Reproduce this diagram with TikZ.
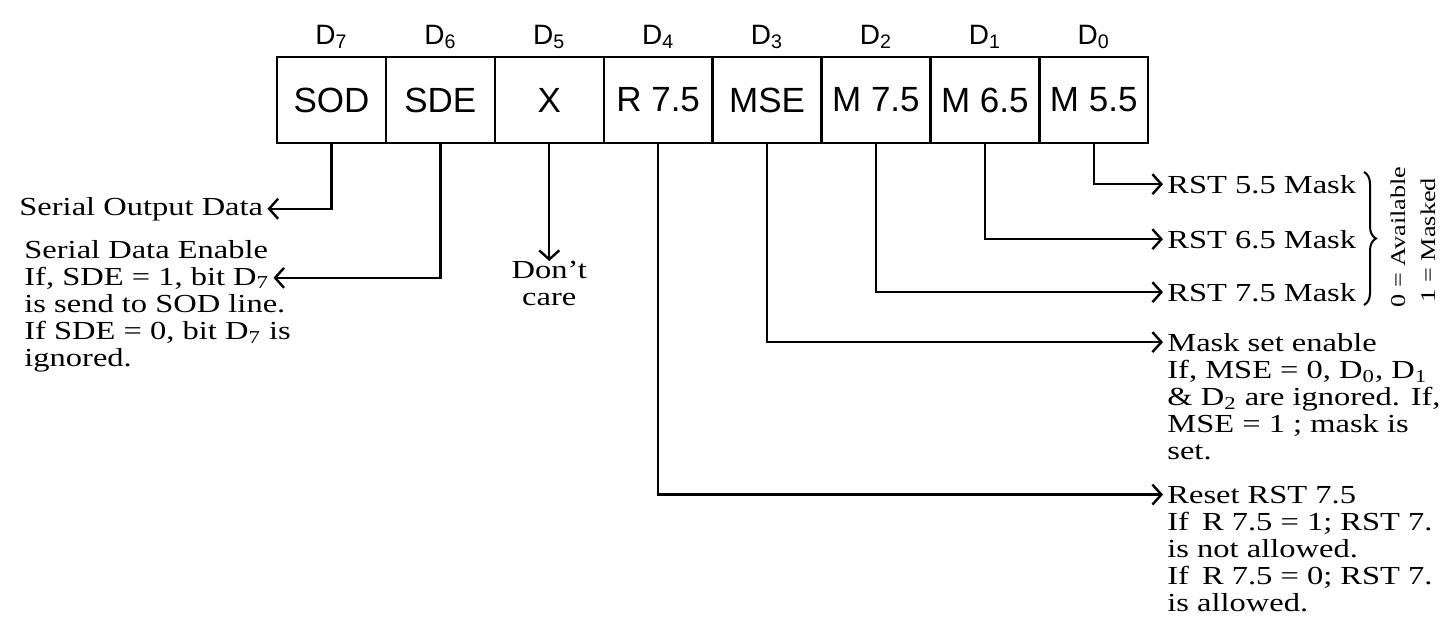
\documentclass[tikz,border=0pt]{standalone}
\usepackage{fontspec}
\setmainfont[FakeStretch=1.25]{Liberation Serif}
\setsansfont{Liberation Sans}
\usetikzlibrary{arrows.meta, positioning, decorations.pathreplacing}

\begin{document}
\begin{tikzpicture}[x=0.5pt, y=-0.5pt,
    cell/.style={draw, line width=1.2pt, minimum width=54.45pt, minimum height=43pt,
      inner sep=0pt, outer sep=0pt, font=\sffamily\fontsize{17.5}{17.5}\selectfont},
    bitlab/.style={inner sep=0pt, font=\sffamily\fontsize{14}{14}\selectfont},
    note/.style={inner xsep=2pt, inner ysep=0pt, align=left,
      font=\fontsize{13}{13.5}\selectfont},
    conn/.style={line width=1.2pt, -{Straight Barb[length=4.5pt,width=10pt]}}]
  \useasboundingbox (0,0) rectangle (1448,622);
  % Register cells
  \node[cell] (b7) at (331.45,100) {SOD};
  \node[cell, right=0pt of b7] (b6) {SDE};
  \node[cell, right=0pt of b6] (b5) {X};
  \node[cell, right=0pt of b5] (b4) {R 7.5};
  \node[cell, right=0pt of b4] (b3) {MSE};
  \node[cell, right=0pt of b3] (b2) {M 7.5};
  \node[cell, right=0pt of b2] (b1) {M 6.5};
  \node[cell, right=0pt of b1] (b0) {M 5.5};
  % Bit numbers
  \node[bitlab, above=4pt of b7] (d7) {D\textsubscript{7}};
  \node[bitlab, above=4pt of b6] (d6) {D\textsubscript{6}};
  \node[bitlab, above=4pt of b5] (d5) {D\textsubscript{5}};
  \node[bitlab, above=4pt of b4] (d4) {D\textsubscript{4}};
  \node[bitlab, above=4pt of b3] (d3) {D\textsubscript{3}};
  \node[bitlab, above=4pt of b2] (d2) {D\textsubscript{2}};
  \node[bitlab, above=4pt of b1] (d1) {D\textsubscript{1}};
  \node[bitlab, above=4pt of b0] (d0) {D\textsubscript{0}};
  % Left side notes
  \node[note, anchor=base west] (sodtxt) at (15,215) {Serial Output Data};
  \node[note, anchor=base west] (sdehead) at (20,258) {Serial Data Enable};
  \node[note, anchor=base west] (sdeline) at ([yshift=-13.5pt]sdehead.base west) {If, SDE = 1, bit D\textsubscript{7}};
  \node[note, anchor=north west] (sderest) at ([yshift=-4.05pt]sdeline.base west) {\strut is send to SOD line.\\If SDE = 0, bit D\textsubscript{7} is\\ignored.};
  \node[note, align=center, below=59pt of b5] (dctxt) {Don't\\care};
  % Right side notes
  \node[note, anchor=base west] (rst55) at (1163,193) {RST 5.5 Mask};
  \node[note, anchor=base west] (rst65) at (1163,248) {RST 6.5 Mask};
  \node[note, anchor=base west] (rst75) at (1163,301) {RST 7.5 Mask};
  \node[note, anchor=base west] (msehead) at (1163,351) {Mask set enable};
  \node[note, anchor=north west] (msebody) at ([yshift=-4.05pt]msehead.base west) {\strut If, MSE = 0, D\textsubscript{0}, D\textsubscript{1}\\\& D\textsubscript{2} are ignored. If,\\MSE = 1 ; mask is\\set.};
  \node[note, anchor=base west] (rsthead) at (1163,503) {Reset RST 7.5};
  \node[note, anchor=north west] (rstbody) at ([yshift=-4.05pt]rsthead.base west) {\strut If\enspace R 7.5 = 1; RST 7.\\is not allowed.\\If\enspace R 7.5 = 0; RST 7.\\is allowed.};
  % Mask brace
  \draw[line width=1pt, decorate, decoration={brace, amplitude=6pt}] (1364,172) -- (1364,305);
  \node[rotate=90, inner sep=0pt, font=\fontsize{10.5}{10.5}\selectfont] (avail) at (1398,237) {0 = Available};
  \node[rotate=90, inner sep=0pt, font=\fontsize{10.5}{10.5}\selectfont] (masked) at (1428,240) {1 = Masked};
  % Connectors
  \draw[conn] (b7.south) |- (sodtxt.east);
  \draw[conn] (b6.south) |- (sdeline.east);
  \draw[conn] (b5.south) -- (dctxt.north);
  \draw[conn] (b4.south) |- (rsthead.west);
  \draw[conn] (b3.south) |- (msehead.west);
  \draw[conn] (b2.south) |- (rst75.west);
  \draw[conn] (b1.south) |- (rst65.west);
  \draw[conn] (b0.south) |- (rst55.west);
\end{tikzpicture}
\end{document}
